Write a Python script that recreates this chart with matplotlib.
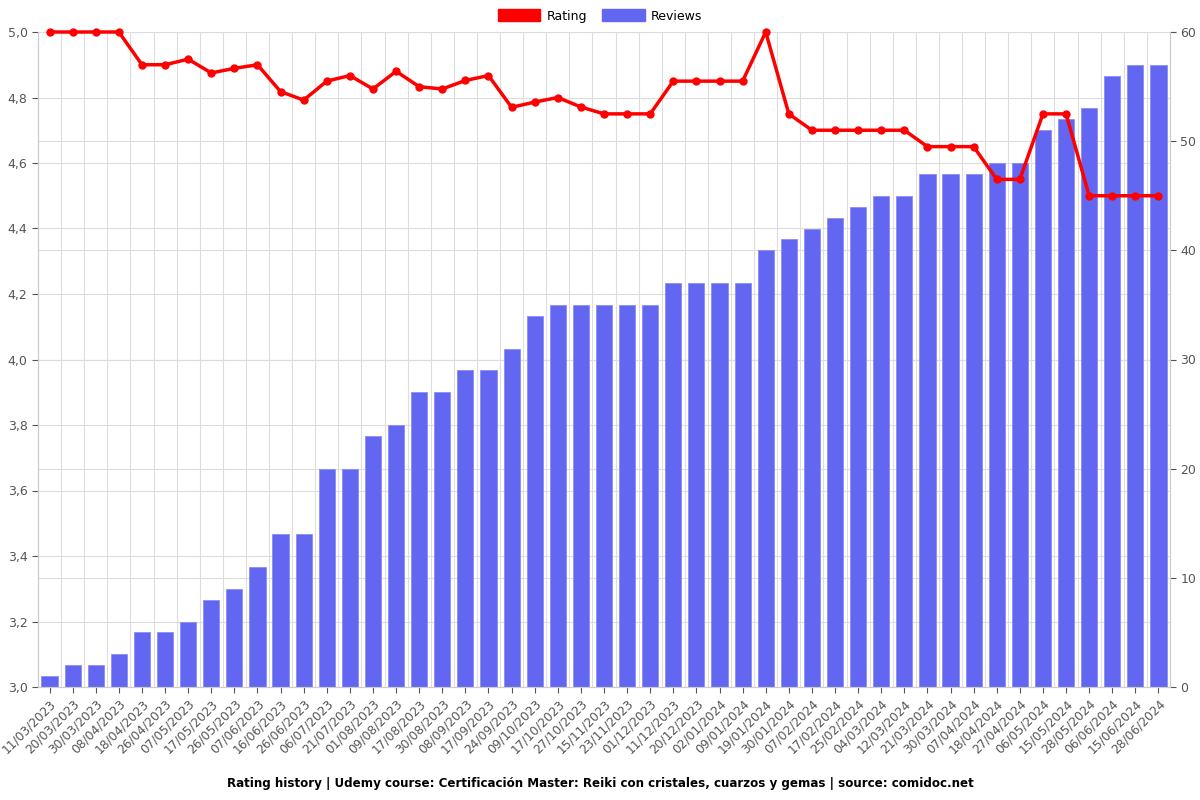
import matplotlib
matplotlib.use("Agg")
import matplotlib.pyplot as plt
from matplotlib.ticker import FuncFormatter, FixedLocator
from matplotlib.patches import Patch

dates = ["11/03/2023", "20/03/2023", "30/03/2023", "08/04/2023", "18/04/2023", "26/04/2023",
         "07/05/2023", "17/05/2023", "26/05/2023", "07/06/2023", "16/06/2023", "26/06/2023",
         "06/07/2023", "21/07/2023", "01/08/2023", "09/08/2023", "17/08/2023", "30/08/2023",
         "08/09/2023", "17/09/2023", "24/09/2023", "09/10/2023", "17/10/2023", "27/10/2023",
         "15/11/2023", "23/11/2023", "01/12/2023", "11/12/2023", "20/12/2023", "02/01/2024",
         "09/01/2024", "19/01/2024", "30/01/2024", "07/02/2024", "17/02/2024", "25/02/2024",
         "04/03/2024", "12/03/2024", "21/03/2024", "30/03/2024", "07/04/2024", "18/04/2024",
         "27/04/2024", "06/05/2024", "15/05/2024", "28/05/2024", "06/06/2024", "15/06/2024",
         "28/06/2024"]

reviews = [1, 2, 2, 3, 5, 5, 6, 8, 9, 11, 14, 14, 20, 20, 23, 24, 27, 27, 29, 29, 31, 34,
           35, 35, 35, 35, 35, 37, 37, 37, 37, 40, 41, 42, 43, 44, 45, 45, 47, 47, 47, 48,
           48, 51, 52, 53, 56, 57, 57]

rating = [5.0, 5.0, 5.0, 5.0, 4.9, 4.9, 4.917, 4.875, 4.889, 4.9, 4.818, 4.792, 4.85, 4.867,
          4.826, 4.88, 4.833, 4.826, 4.852, 4.867, 4.77, 4.786, 4.8, 4.771, 4.75, 4.75, 4.75,
          4.85, 4.85, 4.85, 4.85, 5.0, 4.75, 4.7, 4.7, 4.7, 4.7, 4.7, 4.65, 4.65, 4.65, 4.55,
          4.55, 4.75, 4.75, 4.5, 4.5, 4.5, 4.5]

left_ticks = [3.0, 3.2, 3.4, 3.6, 3.8, 4.0, 4.2, 4.4, 4.6, 4.8, 5.0]
right_ticks = [0, 10, 20, 30, 40, 50, 60]

BAR = "#6366f1"
RED = "#ff0000"
TICKC = "#555555"
GRIDC = "#dddddd"

fig = plt.figure(figsize=(12, 8), dpi=100)
ax2 = fig.add_axes([38/1200, 1-687/800, (1170-38)/1200, (687-32)/800])
ax = ax2.twinx()
ax.yaxis.tick_left()
ax2.yaxis.tick_right()
ax.yaxis.set_label_position("left")

x = list(range(len(dates)))

# bottom layer: grids + bars
ax2.set_xlim(-0.5, len(dates) - 0.5)
ax2.set_ylim(0, 60)
ax2.set_axisbelow(True)
ax2.xaxis.set_minor_locator(FixedLocator([i + 0.5 for i in range(len(dates) - 1)]))
ax2.grid(which="minor", axis="x", color=GRIDC, linewidth=0.8)
ax2.grid(which="major", axis="y", color=GRIDC, linewidth=0.8)
for r in left_ticks:
    ax2.axhline((r - 3.0) * 30, color=GRIDC, linewidth=0.8, zorder=0)
ax2.bar(x, reviews, width=0.7, color=BAR, edgecolor="#8a8cf5", linewidth=0.6, zorder=2)
ax2.set_yticks(right_ticks)
ax2.tick_params(axis="y", colors=TICKC, labelsize=9, length=4, right=True, left=False,
                labelright=True, labelleft=False)
ax2.tick_params(axis="x", which="minor", length=0)

# top layer: rating line
ax.set_zorder(ax2.get_zorder() + 1)
ax.patch.set_visible(False)
ax.set_ylim(3.0, 5.0)
ax.set_yticks(left_ticks)
ax.yaxis.set_major_formatter(FuncFormatter(lambda v, p: f"{v:.1f}".replace(".", ",")))
ax.tick_params(axis="y", colors=TICKC, labelsize=9, length=4, left=True, right=False,
               labelleft=True, labelright=False)
ax.plot(x, rating, color=RED, linewidth=2.5, marker="o", markersize=5, zorder=5,
        clip_on=False)

ax2.set_xticks(x)
ax2.set_xticklabels(dates, rotation=45, ha="right", rotation_mode="anchor",
                    fontsize=8.8, color=TICKC)
ax2.tick_params(axis="x", which="major", colors=TICKC, length=4)

for a in (ax, ax2):
    for s in a.spines.values():
        s.set_color("#cccccc")
    a.spines["top"].set_visible(False)

handles = [Patch(facecolor=RED, edgecolor=RED), Patch(facecolor=BAR, edgecolor=BAR)]
fig.legend(handles, ["Rating", "Reviews"], loc="center", bbox_to_anchor=(0.5, 1 - 16/800),
           ncol=2, frameon=False, fontsize=9, handlelength=3.4, handleheight=1.1,
           columnspacing=1.2, handletextpad=0.5)

fig.text(0.5, 1 - 783/800,
         "Rating history | Udemy course: Certificación Master: Reiki con cristales, cuarzos y gemas | source: comidoc.net",
         ha="center", va="center", fontsize=8.6, fontweight="bold")

fig.savefig("out.png", dpi=100)
